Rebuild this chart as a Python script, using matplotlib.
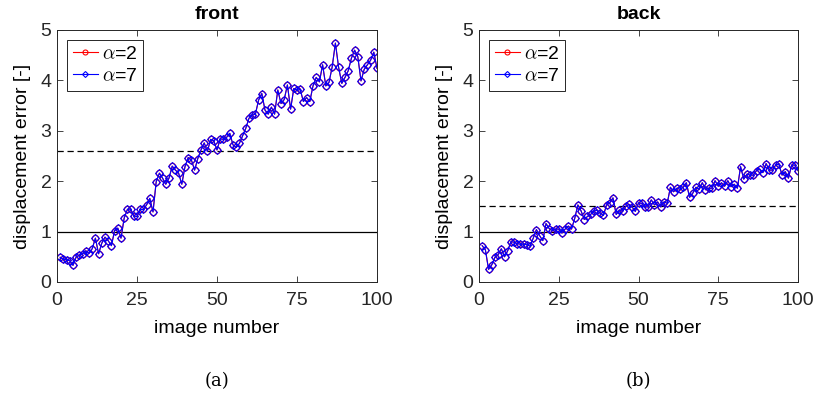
import numpy as np
import matplotlib
matplotlib.use('Agg')
import matplotlib.pyplot as plt

# image number 1..100
image_number = list(range(1, 101))

# front, alpha=7 (alpha=2 overlaps it almost exactly)
front_a7 = [0.49, 0.45, 0.44, 0.42, 0.33, 0.50, 0.53, 0.56, 0.62, 0.57,
            0.66, 0.87, 0.56, 0.77, 0.89, 0.82, 0.72, 1.02, 1.07, 0.87,
            1.27, 1.44, 1.45, 1.31, 1.30, 1.44, 1.44, 1.53, 1.66, 1.39,
            1.99, 2.16, 2.06, 1.94, 2.06, 2.30, 2.22, 2.16, 1.94, 2.29,
            2.47, 2.42, 2.22, 2.45, 2.62, 2.76, 2.59, 2.83, 2.80, 2.62,
            2.84, 2.83, 2.87, 2.95, 2.72, 2.67, 2.75, 2.90, 3.05, 3.25,
            3.31, 3.33, 3.61, 3.74, 3.41, 3.33, 3.47, 3.33, 3.81, 3.54,
            3.62, 3.91, 3.43, 3.84, 3.80, 3.82, 3.58, 3.66, 3.58, 3.89,
            4.06, 3.97, 4.31, 3.89, 3.96, 4.27, 4.74, 4.26, 3.94, 4.06,
            4.19, 4.44, 4.60, 4.47, 3.99, 4.22, 4.31, 4.40, 4.56, 4.24]
front_a2 = list(front_a7)

# back, alpha=7
back_a7 = [0.72, 0.64, 0.25, 0.34, 0.49, 0.54, 0.66, 0.50, 0.62, 0.80,
           0.79, 0.76, 0.75, 0.75, 0.74, 0.71, 0.87, 1.04, 0.92, 0.82,
           1.16, 1.06, 1.02, 1.05, 1.05, 0.97, 1.05, 1.11, 1.05, 1.26,
           1.53, 1.41, 1.24, 1.30, 1.34, 1.41, 1.42, 1.37, 1.32, 1.53,
           1.57, 1.67, 1.34, 1.43, 1.40, 1.50, 1.54, 1.49, 1.40, 1.57,
           1.56, 1.49, 1.49, 1.63, 1.53, 1.59, 1.49, 1.59, 1.56, 1.88,
           1.79, 1.86, 1.84, 1.88, 1.97, 1.68, 1.76, 1.88, 1.84, 1.97,
           1.83, 1.86, 1.86, 2.01, 1.90, 1.97, 1.90, 2.01, 1.89, 1.94,
           1.86, 2.29, 2.04, 2.14, 2.12, 2.12, 2.21, 2.24, 2.17, 2.35,
           2.22, 2.22, 2.32, 2.34, 2.12, 2.19, 2.06, 2.32, 2.32, 2.21]
back_a2 = list(back_a7)

titles = ['front', 'back']
captions = ['(a)', '(b)']
solid_level = [1.0, 1.0]
dashed_level = [2.6, 1.5]

plt.rcParams['font.family'] = ['Liberation Sans', 'DejaVu Sans']
plt.rcParams['mathtext.fontset'] = 'cm'

fig = plt.figure(figsize=(8.13, 4.01), dpi=100)
ax_left = fig.add_axes([57 / 813, 1 - 282 / 401, 320 / 813, 252 / 401])
ax_right = fig.add_axes([479 / 813, 1 - 282 / 401, 319 / 813, 252 / 401])

series = [(front_a2, front_a7), (back_a2, back_a7)]
for i, ax in enumerate([ax_left, ax_right]):
    a2, a7 = series[i]
    ax.axhline(solid_level[i], color='black', lw=0.9)
    ax.axhline(dashed_level[i], color='black', lw=0.9, ls=(0, (5, 3)))
    ax.plot(image_number, a2, '-o', color='red', lw=0.8, ms=4.5,
            mfc='none', mew=0.8, label=r'$\alpha$=2')
    ax.plot(image_number, a7, '-D', color='blue', lw=0.8, ms=3.8,
            mfc='none', mew=0.8, label=r'$\alpha$=7')
    ax.set_xlim(0, 100)
    ax.set_ylim(0, 5)
    ax.set_xticks([0, 25, 50, 75, 100])
    ax.set_yticks([0, 1, 2, 3, 4, 5])
    ax.tick_params(direction='in', top=True, right=True, length=4,
                   width=0.6, labelsize=14, colors='#262626')
    ax.tick_params(axis='x', pad=7)
    ax.tick_params(axis='y', pad=4)
    for sp in ax.spines.values():
        sp.set_color('#262626')
        sp.set_linewidth(0.7)
    ax.set_title(titles[i], fontsize=14, fontweight='bold', pad=8)
    ax.set_xlabel('image number', fontsize=14, labelpad=8)
    ax.set_ylabel('displacement error [-]', fontsize=14, labelpad=7)
    leg = ax.legend(loc='upper left', fontsize=14, handlelength=1.3,
                    handletextpad=0.2, borderpad=0.3, labelspacing=0.2,
                    borderaxespad=0.5, fancybox=False, framealpha=1,
                    edgecolor='#262626', markerscale=0.8)
    leg.get_frame().set_linewidth(0.7)

fig.text(217 / 813, 1 - 381 / 401, captions[0], ha='center', va='center',
         fontsize=13, family='DejaVu Serif')
fig.text(638 / 813, 1 - 381 / 401, captions[1], ha='center', va='center',
         fontsize=13, family='DejaVu Serif')

plt.savefig('out.png', dpi=100)
